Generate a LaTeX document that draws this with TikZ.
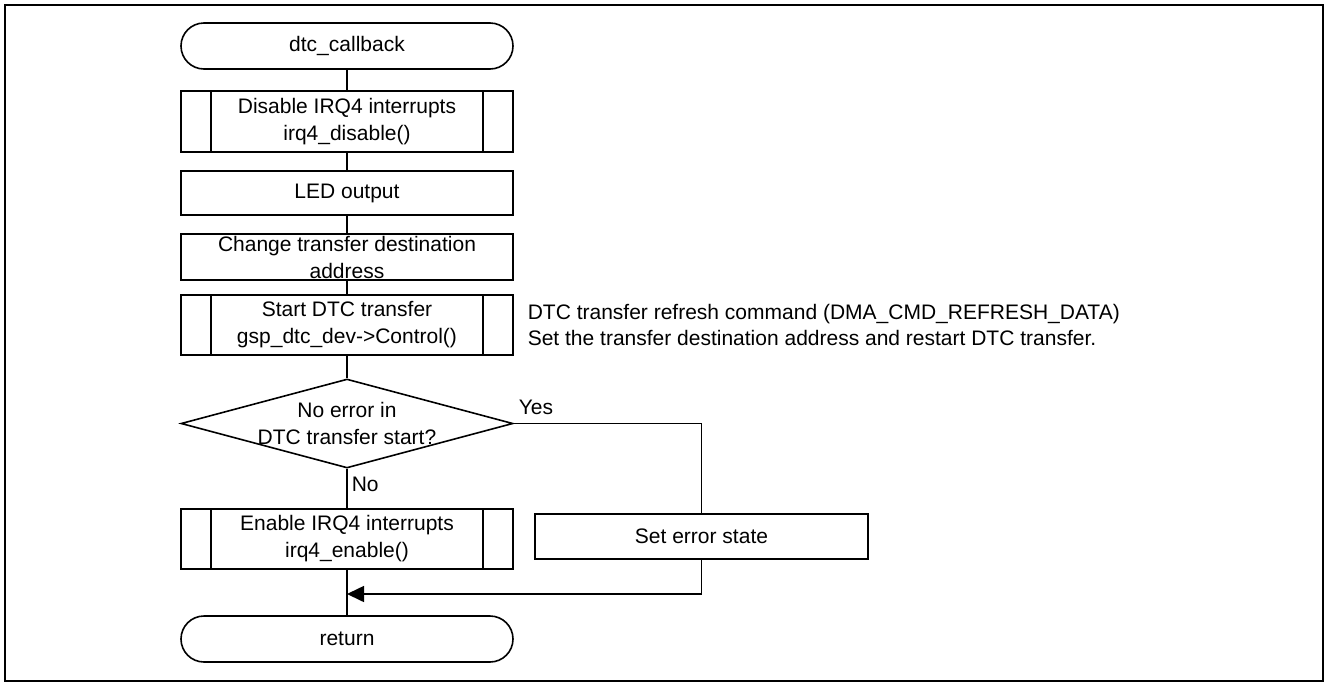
\documentclass[tikz,border=0pt]{standalone}
\usepackage{fontspec}
\setmainfont{Liberation Sans}
\usetikzlibrary{shapes.geometric,shapes.misc,arrows.meta}
\begin{document}
\begin{tikzpicture}[x=1pt,y=-1pt,line width=1.6pt,
  every node/.style={font=\fontsize{21}{27}\selectfont, align=center, inner sep=0pt},
  proc/.style={draw, rectangle, minimum width=332pt},
  subproc/.style={proc, path picture={
     \draw[line width=1.6pt] ([xshift=30pt]path picture bounding box.north west) -- ([xshift=30pt]path picture bounding box.south west);
     \draw[line width=1.6pt] ([xshift=-30pt]path picture bounding box.north east) -- ([xshift=-30pt]path picture bounding box.south east);}},
  term/.style={draw, rounded rectangle, minimum width=332pt, minimum height=46pt},
  decision/.style={draw, diamond, minimum width=332pt, minimum height=89pt, aspect=3.7},
  flow/.style={line width=1.6pt},
  tip/.style={-{Triangle[length=17pt,width=16pt]}}
]
\useasboundingbox (0,0) rectangle (1328,686);
\draw[line width=2pt] (5,5) rectangle (1323,681);

\node[term] (start) at (347,46) {dtc\_callback};
\node[subproc, minimum height=61pt] (dis) at (347,121.5) {Disable IRQ4 interrupts\\irq4\_disable()};
\node[proc, minimum height=44pt] (led) at (347,193) {LED output};
\node[proc, minimum height=46pt] (chg) at (347,257) {Change transfer destination\\address};
\node[subproc, minimum height=60pt] (dtc) at (347,325) {Start DTC transfer\\gsp\_dtc\_dev->Control()};
\node[anchor=west, align=left, font=\fontsize{21}{26}\selectfont] (note) at (527,325) {DTC transfer refresh command (DMA\_CMD\_REFRESH\_DATA)\\Set the transfer destination address and restart DTC transfer.};
\node[decision, label=center:{No error in\\DTC transfer start?}] (dec) at (347,423.5) {};
\node[anchor=west] (yes) at (518,407) {Yes};
\node[anchor=west] (no) at (351,484) {No};
\node[subproc, minimum height=60pt] (en) at (347,539) {Enable IRQ4 interrupts\\irq4\_enable()};
\node[proc, minimum width=333pt, minimum height=45pt] (err) at (701.5,536.5) {Set error state};
\node[term] (ret) at (347,639) {return};
\coordinate (merge) at (347,594);

\draw[flow] (start) -- (dis);
\draw[flow] (dis) -- (led);
\draw[flow] (led) -- (chg);
\draw[flow] (chg) -- (dtc);
\draw[flow] (dtc) -- (dec);
\draw[flow] (dec.south) -- (en.north);
\draw[flow] (dec.east) -| (err.north);
\draw[flow,tip] (err.south) |- (merge);
\draw[flow] (en.south) -- (ret.north);
\end{tikzpicture}
\end{document}
